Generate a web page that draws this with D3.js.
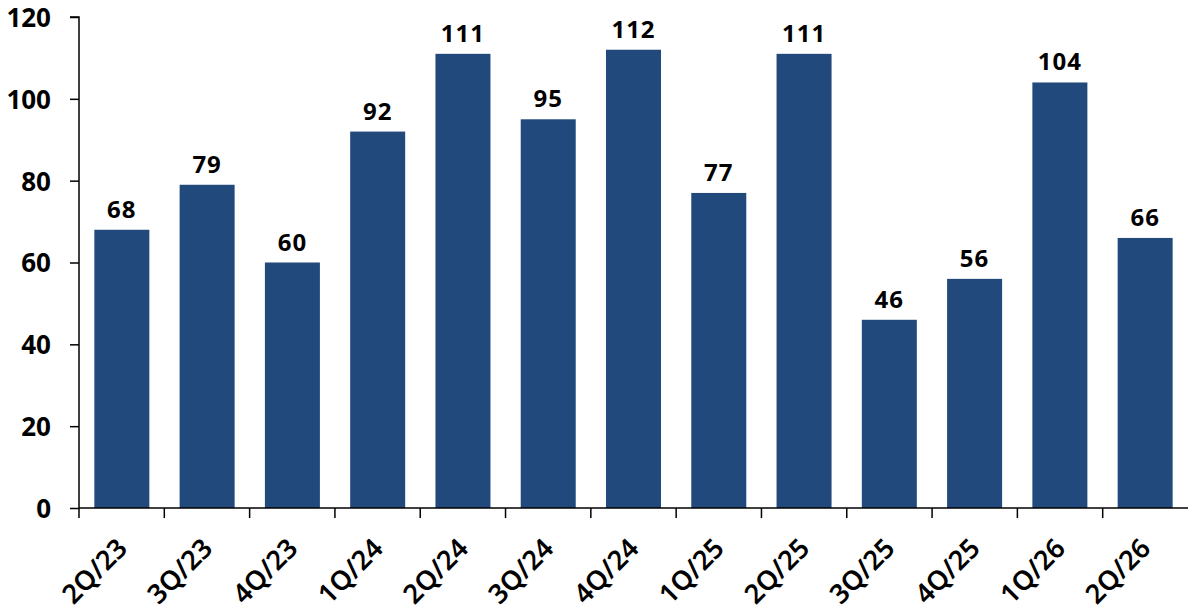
<!DOCTYPE html>
<html><head><meta charset="utf-8">
<script src="https://cdn.jsdelivr.net/npm/d3@7"></script>
<style>
html,body{margin:0;padding:0;background:#fff;}
svg text{font-family:"Noto Sans","DejaVu Sans",sans-serif;font-weight:bold;fill:#000;}
</style></head>
<body><svg id="c" width="1188" height="613"></svg>
<script>
const categories = ["2Q/23","3Q/23","4Q/23","1Q/24","2Q/24","3Q/24","4Q/24","1Q/25","2Q/25","3Q/25","4Q/25","1Q/26","2Q/26"];
const values = [68,79,60,92,111,95,112,77,111,46,56,104,66];
const yTicks = [0,20,40,60,80,100,120];

(function(){
const svg = d3.select("#c");
const pLeft = 79, pRight = 1188, pTop = 17, pBottom = 508;
const x = d3.scaleBand().domain(categories).range([pLeft, pRight]).paddingInner(0.355).paddingOuter(0.18);
const y = d3.scaleLinear().domain([0,120]).range([pBottom, pTop]);

svg.append("g").selectAll("rect").data(values).join("rect")
  .attr("x",(d,i)=>x(categories[i]))
  .attr("y",d=>y(d))
  .attr("width",x.bandwidth())
  .attr("height",d=>pBottom-y(d))
  .attr("fill","#21497C");

// y axis
const ya = svg.append("g").attr("transform",`translate(${pLeft},0)`)
  .call(d3.axisLeft(y).tickValues(yTicks).tickSize(9).tickPadding(19));
ya.select(".domain").attr("stroke","#000").attr("stroke-width",1.5).attr("d",`M-9,${pTop}H0V${pBottom}`);
ya.selectAll(".tick line").attr("stroke","#000").attr("stroke-width",1.5);
ya.selectAll("text").style("font-size","26px").attr("fill","#000").attr("dy","0.36em");

// x axis with ticks at band boundaries
const xa = svg.append("g");
xa.append("line").attr("x1",pLeft).attr("x2",pRight).attr("y1",pBottom).attr("y2",pBottom).attr("stroke","#000").attr("stroke-width",1.5);
const bounds = d3.range(categories.length).map(i=>pLeft + i*(pRight-pLeft)/categories.length);
xa.selectAll("line.tk").data(bounds).join("line").attr("class","tk")
  .attr("x1",d=>d).attr("x2",d=>d).attr("y1",pBottom).attr("y2",pBottom+10)
  .attr("stroke","#000").attr("stroke-width",1.5);
xa.selectAll("text").data(categories).join("text")
  .attr("transform",d=>`translate(${x(d)+x.bandwidth()/2+7},${pBottom+42}) rotate(-45)`)
  .attr("text-anchor","end")
  .style("font-size","27px")
  .style("font-weight","600")
  .text(d=>d);

// value labels
svg.append("g").selectAll("text").data(values).join("text")
  .attr("x",(d,i)=>x(categories[i])+x.bandwidth()/2)
  .attr("y",d=>y(d)-12)
  .attr("text-anchor","middle")
  .style("font-size","24px")
  .style("letter-spacing","1px")
  .text(d=>d);
})();
</script></body></html>
